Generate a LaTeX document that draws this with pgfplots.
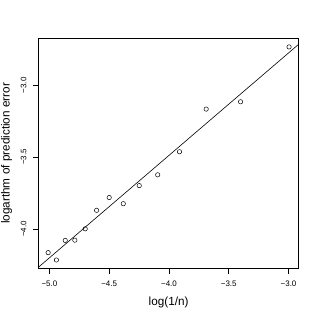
\documentclass[border=0pt]{standalone}
\usepackage{pgfplots}
\pgfplotsset{compat=1.18}
\usepackage{fontspec}
\setmainfont{Liberation Sans}
\begin{document}
\begin{tikzpicture}
\path[use as bounding box] (0,0) rectangle (319bp,319bp);
\begin{axis}[
  at={(38.5bp,50.5bp)}, anchor=south west,
  scale only axis, width=260.2bp, height=230.2bp,
  xmin=-5.0912, xmax=-2.9151, ymin=-4.2764, ymax=-2.6728,
  axis line style={line width=0.6pt},
  tick style={line width=0.6pt, black},
  tick align=outside, major tick length=5.5bp,
  xtick={-5,-4.5,-4,-3.5,-3}, xticklabels={−5.0,−4.5,−4.0,−3.5,−3.0},
  ytick={-4,-3.5,-3}, yticklabels={−4.0,−3.5,−3.0},
  xtick pos=bottom, ytick pos=left,
  ticklabel style={font=\fontsize{8}{9}\selectfont},
  xticklabel style={yshift=-3.5bp},
  yticklabel style={xshift=-3bp, rotate=90, anchor=south},
  xlabel={log(1/n)}, ylabel={logarthm of prediction error},
  label style={font=\fontsize{11.8}{13}\selectfont},
  xlabel style={at={(axis description cs:0.5,0)}, anchor=center, yshift=-33.5bp},
  ylabel style={at={(axis description cs:0,0.5)}, anchor=center, yshift=32bp},
  clip=true,
]
\addplot[only marks, mark=o, mark size=2.2bp, mark options={line width=0.5pt, black}] coordinates {
(-5.0106,-4.166) (-4.9416,-4.217) (-4.8675,-4.081) (-4.7875,-4.079)
(-4.7005,-4.000) (-4.6052,-3.871) (-4.4998,-3.782) (-4.3820,-3.825)
(-4.2485,-3.699) (-4.0943,-3.624) (-3.9120,-3.463) (-3.6889,-3.166)
(-3.4012,-3.115) (-2.9957,-2.733)
};
\addplot[black, line width=0.6pt] coordinates {(-5.2,-4.345) (-2.8,-2.632)};
\end{axis}
\end{tikzpicture}
\end{document}
